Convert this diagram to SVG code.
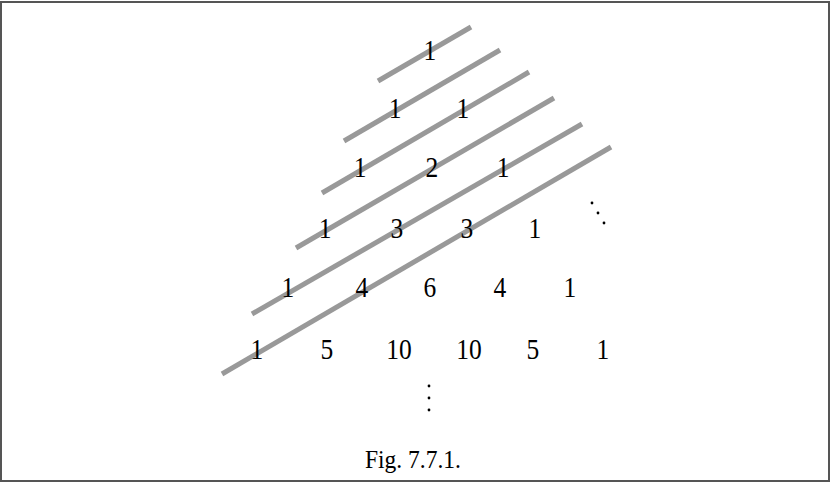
<svg xmlns="http://www.w3.org/2000/svg" width="831" height="482" viewBox="0 0 831 482">
<style>
.num{font-family:"Liberation Serif","Times New Roman",serif;font-size:25.5px;fill:#000;text-anchor:middle}
.cap{font-family:"Liberation Serif","Times New Roman",serif;font-size:23.5px;fill:#000;text-anchor:middle}
.diag{stroke:#999;stroke-width:5;fill:none}
</style>
<rect x="0" y="0" width="831" height="482" fill="#fff"/>
<rect x="1" y="2" width="828" height="479" fill="none" stroke="#555" stroke-width="2"/>
<g id="diagonals">
<line class="diag" x1="378" y1="81" x2="471" y2="27"/>
<line class="diag" x1="344" y1="141" x2="500" y2="50"/>
<line class="diag" x1="322" y1="193" x2="529" y2="72"/>
<line class="diag" x1="296" y1="248" x2="554" y2="98"/>
<line class="diag" x1="252" y1="314" x2="582" y2="124"/>
<line class="diag" x1="222" y1="374" x2="611" y2="147"/>
</g>
<g id="row0" transform="translate(0,60) scale(1,1.13)"><text class="num" x="430" y="0">1</text></g>
<g id="row1" transform="translate(0,118) scale(1,1.13)"><text class="num" x="395" y="0">1</text><text class="num" x="463" y="0">1</text></g>
<g id="row2" transform="translate(0,177) scale(1,1.13)"><text class="num" x="360" y="0">1</text><text class="num" x="432" y="0">2</text><text class="num" x="503" y="0">1</text></g>
<g id="row3" transform="translate(0,238) scale(1,1.13)"><text class="num" x="325" y="0">1</text><text class="num" x="397" y="0">3</text><text class="num" x="467" y="0">3</text><text class="num" x="535" y="0">1</text></g>
<g id="row4" transform="translate(0,297) scale(1,1.13)"><text class="num" x="288" y="0">1</text><text class="num" x="362" y="0">4</text><text class="num" x="430" y="0">6</text><text class="num" x="500" y="0">4</text><text class="num" x="570" y="0">1</text></g>
<g id="row5" transform="translate(0,359) scale(1,1.13)"><text class="num" x="257" y="0">1</text><text class="num" x="327" y="0">5</text><text class="num" x="399" y="0">10</text><text class="num" x="469" y="0">10</text><text class="num" x="533" y="0">5</text><text class="num" x="603" y="0">1</text></g>
<g id="ddots" fill="#000"><circle cx="592" cy="203" r="1.4"/><circle cx="598" cy="213" r="1.4"/><circle cx="604" cy="223" r="1.4"/></g>
<g id="vdots" fill="#000"><circle cx="429" cy="386" r="1.4"/><circle cx="429" cy="398" r="1.4"/><circle cx="429" cy="410" r="1.4"/></g>
<g id="caption" transform="translate(0,468) scale(1,1.05)"><text class="cap" x="413" y="0">Fig. 7.7.1.</text></g>
</svg>
